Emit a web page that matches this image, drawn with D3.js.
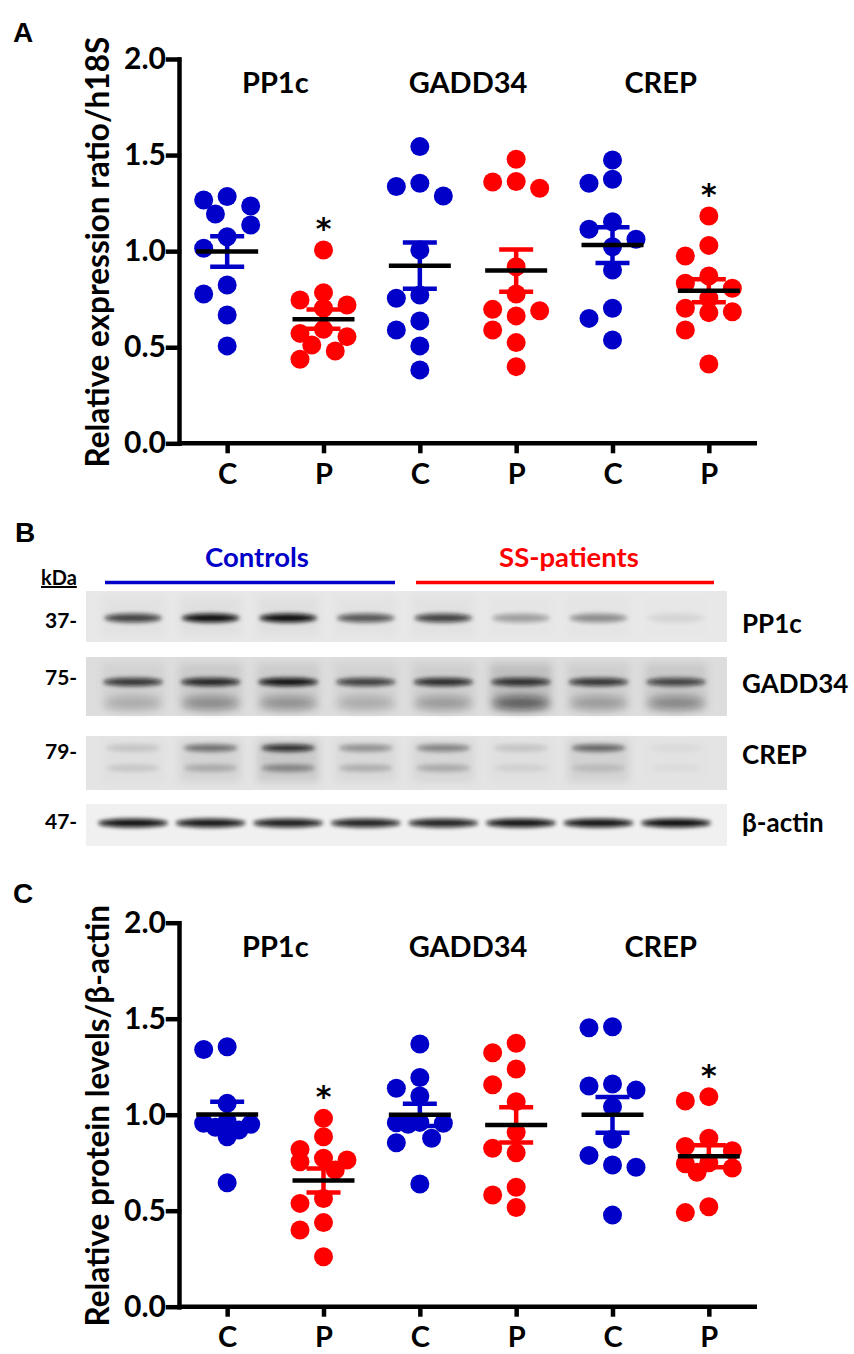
<!DOCTYPE html>
<meta charset='utf-8'>
<html>
<head>
    <title>PP1c / GADD34 / CREP</title>
    <script src='https://d3js.org/d3.v7.min.js'></script>
    <style>
        html, body { margin: 0; padding: 0; background: white; }
        svg { display: block; }
        text { font-family: 'Lato', 'Open Sans', sans-serif; font-weight: bold; }
        .letter { font-family: 'Liberation Sans', Arial, sans-serif; }
    </style>
</head>
<body>
<script>

    const width = 854;
    const height = 1354;

    // categories
    const genes = ['PP1c', 'GADD34', 'CREP'];
    const groupsCP = ['C', 'P'];
    const tickValues = [0, 0.5, 1.0, 1.5, 2.0];

    // panel A: mRNA relative expression ratio / h18S
    const mrnaPP1cC = [1.284, 1.266, 1.235, 1.193, 1.136, 1.075, 1.015, 0.824, 0.777, 0.668, 0.507];
    const mrnaPP1cP = [1.006, 0.784, 0.746, 0.720, 0.703, 0.593, 0.572, 0.555, 0.512, 0.480, 0.437];
    const mrnaGADD34C = [1.544, 1.353, 1.336, 1.287, 1.006, 0.772, 0.755, 0.637, 0.590, 0.507, 0.382];
    const mrnaGADD34P = [1.478, 1.362, 1.360, 1.327, 0.919, 0.777, 0.697, 0.690, 0.663, 0.590, 0.524, 0.399];
    const mrnaCREPC = [1.474, 1.374, 1.353, 1.153, 1.114, 1.062, 1.023, 0.902, 0.703, 0.650, 0.538];
    const mrnaCREPP = [1.183, 1.030, 0.975, 0.871, 0.833, 0.807, 0.755, 0.703, 0.685, 0.680, 0.590, 0.413];

    // panel C: protein levels / beta-actin
    const protPP1cC = [1.354, 1.340, 1.059, 0.965, 0.955, 0.950, 0.935, 0.920, 0.885, 0.646];
    const protPP1cP = [0.981, 0.885, 0.819, 0.773, 0.764, 0.755, 0.712, 0.564, 0.538, 0.438, 0.399, 0.260];
    const protGADD34C = [1.368, 1.194, 1.138, 1.097, 0.960, 0.958, 0.955, 0.950, 0.877, 0.854, 0.639];
    const protGADD34P = [1.372, 1.323, 1.238, 1.156, 1.068, 0.908, 0.825, 0.802, 0.622, 0.582, 0.517];
    const protCREPC = [1.458, 1.453, 1.160, 1.149, 1.128, 1.042, 0.872, 0.788, 0.738, 0.726, 0.477];
    const protCREPP = [1.094, 1.071, 0.877, 0.835, 0.812, 0.750, 0.745, 0.722, 0.700, 0.521, 0.490];

    // which P groups carry a significance star
    const significant = ['PP1c|P', 'CREP|P'];

    // panel B: western blot, band darkness per lane (4 controls, 4 SS-patients)
    const laneGroups = ['Controls', 'SS-patients'];
    const bandPP1c = [0.75, 1.00, 1.00, 0.65, 0.75, 0.32, 0.40, 0.08];
    const bandGADD34 = [0.80, 0.88, 0.98, 0.75, 0.85, 0.82, 0.80, 0.72];
    const smearGADD34 = [0.22, 0.38, 0.35, 0.22, 0.30, 0.62, 0.30, 0.40];
    const bandCREPUpper = [0.14, 0.55, 0.90, 0.38, 0.45, 0.14, 0.60, 0.04];
    const bandCREPLower = [0.16, 0.30, 0.55, 0.30, 0.32, 0.10, 0.18, 0.04];
    const bandActin = [0.98, 0.95, 0.92, 0.90, 0.90, 0.97, 0.97, 1.00];
    const kdaLabels = ['37-', '75-', '79-', '47-'];
    const blotLabels = ['PP1c', 'GADD34', 'CREP', 'β-actin'];

    const blue = '#0000c8';
    const red = '#ff0000';

    const svg = d3.select('body')
        .append('svg')
        .attr('width', width)
        .attr('height', height);

    // blur for the blot bands
    const defs = svg.append('defs');
    defs.append('filter').attr('id', 'blur')
        .attr('x', '-50%').attr('y', '-200%').attr('width', '200%').attr('height', '500%')
        .append('feGaussianBlur').attr('stdDeviation', 2);
    defs.append('filter').attr('id', 'blurWide')
        .attr('x', '-50%').attr('y', '-100%').attr('width', '200%').attr('height', '300%')
        .append('feGaussianBlur').attr('stdDeviation', 4);

    // Prism-like scatter: dots go to the centre or one lane left/right,
    // and overlap when there is no free room
    function swarm(values, y, r) {
        const order = d3.range(values.length).sort((a, b) => values[b] - values[a]);
        const placed = [];
        const dx = new Array(values.length);
        const s = 11.75;
        const candidates = [0, -2 * s, 2 * s, -s, s];
        order.forEach(i => {
            const yi = y(values[i]);
            let best = 0, bestDist = -1;
            for (const off of candidates) {
                const dmin = placed.length ? d3.min(placed, p => Math.hypot(p.x - off, p.y - yi)) : Infinity;
                if (dmin >= 2 * r - 1) { best = off; bestDist = Infinity; break; }
                if (dmin > bestDist) { bestDist = dmin; best = off; }
            }
            dx[i] = best;
            placed.push({ x: best, y: yi });
        });
        return dx;
    }

    function scatterPanel(opts) {
        const g = svg.append('g');
        const keys = [];
        genes.forEach(gene => groupsCP.forEach(c => keys.push(gene + '|' + c)));

        const x = d3.scalePoint().domain(keys).range([179, 757]).padding(0.5);
        const y = d3.scaleLinear().domain([0, 2]).range([opts.bottom, opts.top]);

        // y axis
        const yAxis = g.append('g')
            .attr('transform', 'translate(179,0)')
            .call(d3.axisLeft(y).tickValues(tickValues).tickFormat(d3.format('.1f'))
                .tickSize(11).tickSizeOuter(0).tickPadding(2));
        yAxis.selectAll('path, line').attr('stroke', 'black').attr('stroke-width', 4.5)
            .attr('stroke-linecap', 'square');
        yAxis.selectAll('text').attr('fill', 'black').style('font-size', '30px')
            .style('font-family', "'Lato', sans-serif").style('font-weight', 'bold');

        // x axis
        const xAxis = g.append('g')
            .attr('transform', 'translate(0,' + opts.bottom + ')')
            .call(d3.axisBottom(x).tickFormat(d => d.split('|')[1])
                .tickSize(10).tickSizeOuter(0).tickPadding(10));
        xAxis.select('path').attr('d', 'M179,0H757');
        xAxis.selectAll('path, line').attr('stroke', 'black').attr('stroke-width', 4.5);
        xAxis.selectAll('text').attr('fill', 'black').style('font-size', '29px')
            .style('font-family', "'Lato', sans-serif").style('font-weight', 'bold');

        // y axis title
        g.append('text')
            .attr('transform', 'translate(109,' + ((opts.top + opts.bottom) / 2 + 1) + ') rotate(-90)')
            .attr('text-anchor', 'middle')
            .style('font-size', '31.5px')
            .text(opts.yTitle);

        // gene titles
        genes.forEach(gene => {
            g.append('text')
                .attr('x', (x(gene + '|C') + x(gene + '|P')) / 2)
                .attr('y', opts.top + 34)
                .attr('text-anchor', 'middle')
                .style('font-size', '29px')
                .text(gene);
        });

        const r = 9.5;
        keys.forEach((key, i) => {
            const vals = opts.series[i];
            const colour = key.endsWith('C') ? blue : red;
            const dx = swarm(vals, y, r);
            const cx = x(key);

            g.append('g').selectAll('circle')
                .data(vals)
                .enter()
                .append('circle')
                .attr('cx', (d, j) => cx + dx[j])
                .attr('cy', d => y(d))
                .attr('r', r)
                .attr('fill', colour);

            const mean = d3.mean(vals);
            const sem = d3.deviation(vals) / Math.sqrt(vals.length);

            // SEM bar
            const bar = g.append('g').attr('stroke', colour).attr('stroke-width', 4.5);
            bar.append('line').attr('x1', cx).attr('x2', cx).attr('y1', y(mean - sem)).attr('y2', y(mean + sem));
            bar.append('line').attr('x1', cx - 17).attr('x2', cx + 17).attr('y1', y(mean + sem)).attr('y2', y(mean + sem));
            bar.append('line').attr('x1', cx - 17).attr('x2', cx + 17).attr('y1', y(mean - sem)).attr('y2', y(mean - sem));

            // mean line
            g.append('line')
                .attr('x1', cx - 31).attr('x2', cx + 31)
                .attr('y1', y(mean)).attr('y2', y(mean))
                .attr('stroke', 'black').attr('stroke-width', 4.5);

            if (significant.includes(key)) {
                g.append('text')
                    .attr('x', cx)
                    .attr('y', y(d3.max(vals)) - 11)
                    .attr('text-anchor', 'middle')
                    .style('font-family', "'DejaVu Sans', sans-serif")
                    .style('font-size', '30px')
                    .style('font-weight', 'bold')
                    .text('*');
            }
        });
    }

    // ---- panel A
    svg.append('text').attr('class', 'letter').attr('x', 13).attr('y', 42)
        .style('font-size', '28px').text('A');

    scatterPanel({
        top: 59,
        bottom: 443.3,
        yTitle: 'Relative expression ratio/h18S',
        series: [mrnaPP1cC, mrnaPP1cP, mrnaGADD34C, mrnaGADD34P, mrnaCREPC, mrnaCREPP]
    });

    // ---- panel B (blot)
    svg.append('text').attr('class', 'letter').attr('x', 15).attr('y', 542)
        .style('font-size', '28px').text('B');

    const lane = d3.scalePoint().domain(d3.range(8)).range([133, 676]);
    const groupSpan = [[105, 395], [416, 714]];
    const groupColour = [blue, red];

    laneGroups.forEach((name, i) => {
        svg.append('line')
            .attr('x1', groupSpan[i][0]).attr('x2', groupSpan[i][1])
            .attr('y1', 582.5).attr('y2', 582.5)
            .attr('stroke', groupColour[i]).attr('stroke-width', 3.5);
        svg.append('text')
            .attr('x', (groupSpan[i][0] + groupSpan[i][1]) / 2 + (i ? 4 : 7))
            .attr('y', 567)
            .attr('text-anchor', 'middle')
            .attr('fill', groupColour[i])
            .style('font-size', '27.5px')
            .text(name);
    });

    svg.append('text').attr('x', 41).attr('y', 585)
        .style('font-size', '20px').style('text-decoration', 'underline').text('kDa');

    const strips = [
        { top: 591, bottom: 642, bg: '#e8e8e8' },
        { top: 657, bottom: 716, bg: '#dddddd' },
        { top: 736, bottom: 790, bg: '#e4e4e4' },
        { top: 804, bottom: 846, bg: '#f0f0f0' }
    ];
    const stripLabelY = [633, 693, 764, 832];
    const kdaY = [628, 685, 759, 829];

    const blot = svg.append('g');
    strips.forEach((s, i) => {
        blot.append('rect')
            .attr('x', 86).attr('y', s.top)
            .attr('width', 641).attr('height', s.bottom - s.top)
            .attr('fill', s.bg);
        svg.append('text').attr('x', 45).attr('y', kdaY[i])
            .style('font-size', '21px').text(kdaLabels[i]);
        svg.append('text').attr('x', 742).attr('y', stripLabelY[i])
            .style('font-size', '26px').text(blotLabels[i]);
    });

    function bands(values, cy, rx, ry, filter, maxOpacity) {
        blot.append('g').selectAll('ellipse')
            .data(values)
            .enter()
            .append('ellipse')
            .attr('cx', (d, i) => lane(i))
            .attr('cy', cy)
            .attr('rx', rx)
            .attr('ry', ry)
            .attr('fill', '#080808')
            .attr('opacity', d => d * maxOpacity)
            .attr('filter', 'url(#' + filter + ')');
    }

    // lane background smears
    function smears(values, top, h, maxOpacity) {
        blot.append('g').selectAll('rect')
            .data(values)
            .enter()
            .append('rect')
            .attr('x', (d, i) => lane(i) - 31)
            .attr('y', top)
            .attr('width', 62)
            .attr('height', h)
            .attr('fill', '#555')
            .attr('opacity', d => d * maxOpacity)
            .attr('filter', 'url(#blurWide)');
    }

    smears(bandPP1c, 596, 40, 0.05);
    bands(bandPP1c, 618, 29, 4.2, 'blur', 1);

    smears(smearGADD34, 663, 48, 0.35);
    bands(smearGADD34, 703, 28, 7, 'blurWide', 0.9);
    bands(bandGADD34, 682, 30, 4, 'blur', 1);

    smears(bandCREPUpper, 740, 42, 0.2);
    bands(bandCREPUpper, 748, 27, 3.5, 'blur', 0.95);
    bands(bandCREPLower, 768, 27, 3.5, 'blur', 0.7);

    bands(bandActin, 823, 35, 4.3, 'blur', 1);

    // ---- panel C
    svg.append('text').attr('class', 'letter').attr('x', 13).attr('y', 903)
        .style('font-size', '28px').text('C');

    scatterPanel({
        top: 922.7,
        bottom: 1306.7,
        yTitle: 'Relative protein levels/β-actin',
        series: [protPP1cC, protPP1cP, protGADD34C, protGADD34P, protCREPC, protCREPP]
    });

</script>
</body>
</html>
